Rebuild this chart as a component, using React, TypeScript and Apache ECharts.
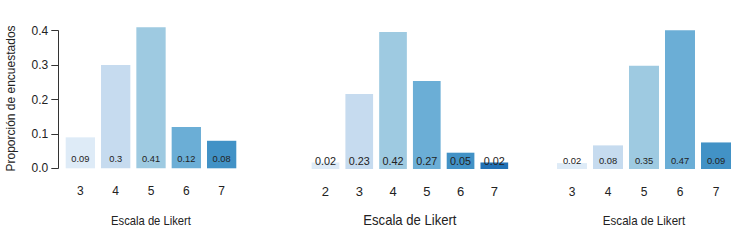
import React, { useEffect, useRef } from "react";
import * as echarts from "echarts";

const catsA = ["3", "4", "5", "6", "7"];
const valsA = [0.09, 0.3, 0.41, 0.12, 0.08];
const catsB = ["2", "3", "4", "5", "6", "7"];
const valsB = [0.02, 0.23, 0.42, 0.27, 0.05, 0.02];
const catsC = ["3", "4", "5", "6", "7"];
const valsC = [0.02, 0.08, 0.35, 0.47, 0.09];
const yTicks = [0, 0.1, 0.2, 0.3, 0.4];

const blues = ["#DEEBF7", "#C6DBEF", "#9ECAE1", "#6BAED6", "#4292C6", "#2171B5"];

const FONT = "'Liberation Sans', Arial, sans-serif";
const W = 748;
const H = 240;

type Panel = {
  cats: string[];
  vals: number[];
  left: number;
  width: number;
  top: number;
  zero: number;
  yMax: number;
  gap: string;
  tickFont: number;
  labelFont: number;
  labelDist: number;
  titleFont: number;
  titleScale: number;
  tickMargin: number;
};

export default function App() {
  const ref = useRef<HTMLDivElement>(null);

  useEffect(() => {
    if (!ref.current) return;
    const chart = echarts.init(ref.current, null, { renderer: "svg" });

    const panels: Panel[] = [
      { cats: catsA, vals: valsA, left: 62.7, width: 176.6, top: 30.7, zero: 168.3, yMax: yTicks[yTicks.length - 1], gap: "17%", tickFont: 12, labelFont: 9.3, labelDist: 5, titleFont: 13, titleScale: 0.865, tickMargin: 17 },
      { cats: catsB, vals: valsB, left: 308.6, width: 202.6, top: 32, zero: 169, yMax: Math.max(...valsB), gap: "18%", tickFont: 13, labelFont: 10.8, labelDist: 3, titleFont: 14, titleScale: 0.937, tickMargin: 16 },
      { cats: catsC, vals: valsC, left: 554, width: 180, top: 30.3, zero: 169, yMax: Math.max(...valsC), gap: "16.7%", tickFont: 12, labelFont: 9.4, labelDist: 4, titleFont: 13, titleScale: 0.89, tickMargin: 17 },
    ];

    const grid = panels.map((p) => ({
      left: p.left,
      width: p.width,
      top: p.top,
      height: p.zero - p.top,
    }));

    const xAxis = panels.map((p, i) => ({
      type: "category",
      gridIndex: i,
      data: p.cats,
      axisLine: { show: false },
      axisTick: { show: false },
      axisLabel: {
        margin: p.tickMargin,
        fontSize: p.tickFont,
        fontFamily: FONT,
        color: "#222",
      },
    }));

    const yAxis = panels.map((p, i) =>
      i === 0
        ? {
            type: "value",
            gridIndex: i,
            min: 0,
            max: p.yMax,
            interval: 0.1,
            offset: 4.4,
            axisLine: { show: true, lineStyle: { color: "#333", width: 1 } },
            axisTick: { show: true, length: 7, lineStyle: { color: "#333" } },
            splitLine: { show: false },
            axisLabel: {
              margin: 10,
              fontSize: 12,
              fontFamily: FONT,
              color: "#222",
              formatter: (v: number) => v.toFixed(1),
            },
          }
        : {
            type: "value",
            gridIndex: i,
            min: 0,
            max: p.yMax,
            show: false,
            splitLine: { show: false },
          }
    );

    const series = panels.map((p, i) => ({
      type: "bar",
      xAxisIndex: i,
      yAxisIndex: i,
      clip: false,
      barCategoryGap: p.gap,
      data: p.vals.map((v, j) => ({
        value: v,
        itemStyle: { color: blues[j] },
      })),
      label: {
        show: true,
        position: "insideBottom",
        distance: p.labelDist,
        fontSize: p.labelFont,
        fontFamily: FONT,
        color: "#222",
        formatter: (q: any) => String(q.value),
      },
    }));

    const graphic: any[] = panels.map((p) => ({
      type: "text",
      x: p.left + p.width / 2,
      y: 220.5,
      scaleX: p.titleScale,
      style: {
        text: "Escala de Likert",
        fontSize: p.titleFont,
        fontFamily: FONT,
        fill: "#222",
        textAlign: "center",
        textVerticalAlign: "middle",
      },
    }));
    graphic.push({
      type: "text",
      x: 11.3,
      y: 98.5,
      rotation: Math.PI / 2,
      style: {
        text: "Proporción de encuestados",
        fontSize: 12,
        fontFamily: FONT,
        fill: "#222",
        textAlign: "center",
        textVerticalAlign: "middle",
      },
    });

    chart.setOption({
      animation: false,
      backgroundColor: "#ffffff",
      grid,
      xAxis,
      yAxis,
      series,
      graphic,
    });

    return () => chart.dispose();
  }, []);

  return (
    <div
      ref={ref}
      style={{ position: "fixed", left: 0, top: 0, width: W, height: H }}
    />
  );
}
